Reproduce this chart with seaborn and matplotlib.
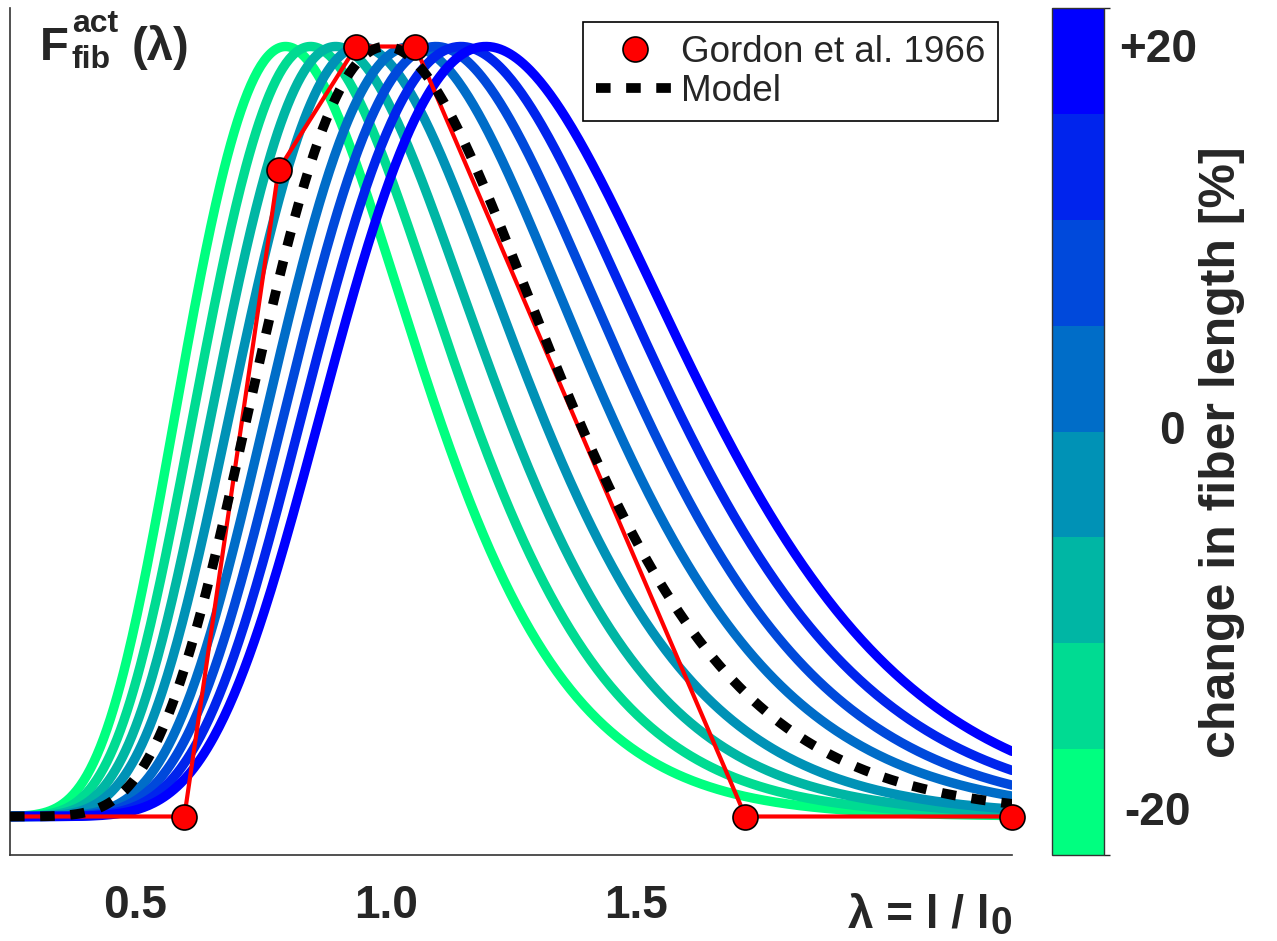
import numpy as np
import pandas as pd
import matplotlib
matplotlib.use("Agg")
import matplotlib.pyplot as plt
import matplotlib as mpl
import seaborn as sns
from matplotlib.colors import ListedColormap, BoundaryNorm
from matplotlib.lines import Line2D

# ---- data -------------------------------------------------------------
length_changes = [-20, -15, -10, -5, 5, 10, 15, 20]          # % change in fiber length
gordon_lambda = [0.0, 0.598, 0.786, 0.941, 1.059, 1.718, 2.25]
gordon_force = [0.0, 0.0, 0.84, 1.0, 1.0, 0.0, 0.0]
x_ticks = [0.5, 1.0, 1.5, 2.0]
x_tick_labels = ["0.5", "1.0", "1.5", ""]
y_ticks = [0.0, 0.2, 0.4, 0.6, 0.8, 1.0]
cbar_ticks = [-20, 0, 20]
cbar_tick_labels = ["-20", "0", "+20"]
model_width = 0.4          # width of the log-normal active force-length relation
x_range = (0.25, 2.25)
y_range = (-0.05, 1.05)


def active_force(lam, change=0.0):
    """Normalised active fiber force; optimum shifted by the length change."""
    optimum = 1.0 + change / 100.0
    return np.exp(-(np.log(lam / optimum) / model_width) ** 2)


# ---- style ------------------------------------------------------------
sns.set_theme(style="white")
plt.rcParams["font.family"] = ["Liberation Sans", "DejaVu Sans"]
plt.rcParams["font.weight"] = "bold"

W, H = 1277, 941
fig = plt.figure(figsize=(W / 100, H / 100), dpi=100)
fig.patch.set_facecolor("white")

# winter colormap, 8 levels
colors = [(0.0, 1 - k / 7, 0.5 + 0.5 * k / 7) for k in range(8)]
palette = dict(zip(length_changes, colors))

ax = fig.add_axes([10 / W, 1 - 855 / H, 1002 / W, 847 / H])

lam = np.linspace(x_range[0], x_range[1], 600)
curves = pd.DataFrame(
    [(l, active_force(l, c), c) for c in length_changes for l in lam],
    columns=["lam", "force", "change"],
)
sns.lineplot(data=curves, x="lam", y="force", hue="change", palette=palette,
             linewidth=6.8, legend=False, ax=ax, zorder=2)

# Gordon et al. measurements joined by a red line
sns.lineplot(x=gordon_lambda, y=gordon_force, sort=False, estimator=None,
             color="red", linewidth=3, ax=ax, zorder=3)

# reference model (no length change)
ax.plot(lam, active_force(lam), color="black", linewidth=7,
        dashes=(1.5, 1.6), zorder=4)

g_lam = np.array(gordon_lambda)
g_f = np.array(gordon_force)
shown = g_lam >= x_range[0]
ax.plot(g_lam[shown], g_f[shown], linestyle="none", marker="o", markersize=18,
        markerfacecolor="red", markeredgecolor="black", markeredgewidth=1.2,
        clip_on=False, zorder=5)

ax.set_xlim(*x_range)
ax.set_ylim(*y_range)
ax.set_xlabel("")
ax.set_ylabel("")
ax.set_xticks(x_ticks)
ax.set_xticklabels(x_tick_labels, fontsize=33, fontweight="bold")
ax.set_yticks(y_ticks)
ax.set_yticklabels([])
ax.tick_params(axis="both", direction="in", length=7, width=1.1,
               color="#333333")
ax.tick_params(axis="x", pad=21)
sns.despine(ax=ax)
for s in ("left", "bottom"):
    ax.spines[s].set_color("#333333")
    ax.spines[s].set_linewidth(1.2)

handles = [
    Line2D([], [], linestyle="none", marker="o", markersize=18,
           markerfacecolor="red", markeredgecolor="black", markeredgewidth=1.2),
    Line2D([], [], color="black", linewidth=7, dashes=(1.5, 1.6)),
]
leg = ax.legend(handles, ["Gordon et al. 1966", "Model"], loc="upper right",
                bbox_to_anchor=(0.986, 0.9835), borderaxespad=0,
                prop={"size": 26.5, "weight": "normal"}, frameon=True,
                fancybox=False, framealpha=1, edgecolor="black",
                handlelength=2.1, handletextpad=0.2, labelspacing=0.1,
                borderpad=0.35)
leg.get_frame().set_linewidth(1.2)

# axis annotations
fig.text(40 / W, 1 - 60 / H, "F", fontsize=34, fontweight="bold", va="baseline")
fig.text(72 / W, 1 - 32 / H, "act", fontsize=23, fontweight="bold", va="baseline")
fig.text(72 / W, 1 - 68 / H, "fib", fontsize=23, fontweight="bold", va="baseline")
fig.text(132 / W, 1 - 60 / H, "(λ)", fontsize=34, fontweight="bold", va="baseline")
fig.text(990 / W, 1 - 927 / H, "λ = l / l", fontsize=33, fontweight="bold",
         ha="right", va="baseline")
fig.text(991 / W, 1 - 934 / H, "0", fontsize=28, fontweight="bold",
         ha="left", va="baseline")

# discrete colorbar
cax = fig.add_axes([1052 / W, 1 - 855 / H, 52 / W, 847 / H])
cb_lim = 22.2
bounds = np.linspace(-cb_lim, cb_lim, 9)
cmap = ListedColormap(colors)
norm = BoundaryNorm(bounds, cmap.N)
cb = fig.colorbar(mpl.cm.ScalarMappable(norm=norm, cmap=cmap), cax=cax)
cb.set_ticks(bounds[1:-1])
cax.tick_params(axis="y", direction="in", left=True, right=True, length=6,
                width=1.0, color="#222222", labelleft=False, labelright=False)
cb.outline.set_linewidth(1.0)
cb.outline.set_edgecolor("#333333")
for v, txt in zip(cbar_ticks, cbar_tick_labels):
    frac = (v + cb_lim) / (2 * cb_lim)
    xpix = 1172 if txt == "0" else 1158
    fig.text(xpix / W, (1 - 855 / H) + frac * 847 / H, txt, fontsize=33,
             fontweight="bold", ha="center", va="center")
fig.text(1222 / W, 1 - 452 / H, "change in fiber length [%]", fontsize=36,
         fontweight="bold", rotation=90, ha="center", va="center")

fig.savefig("out.png", dpi=100, facecolor="white")
